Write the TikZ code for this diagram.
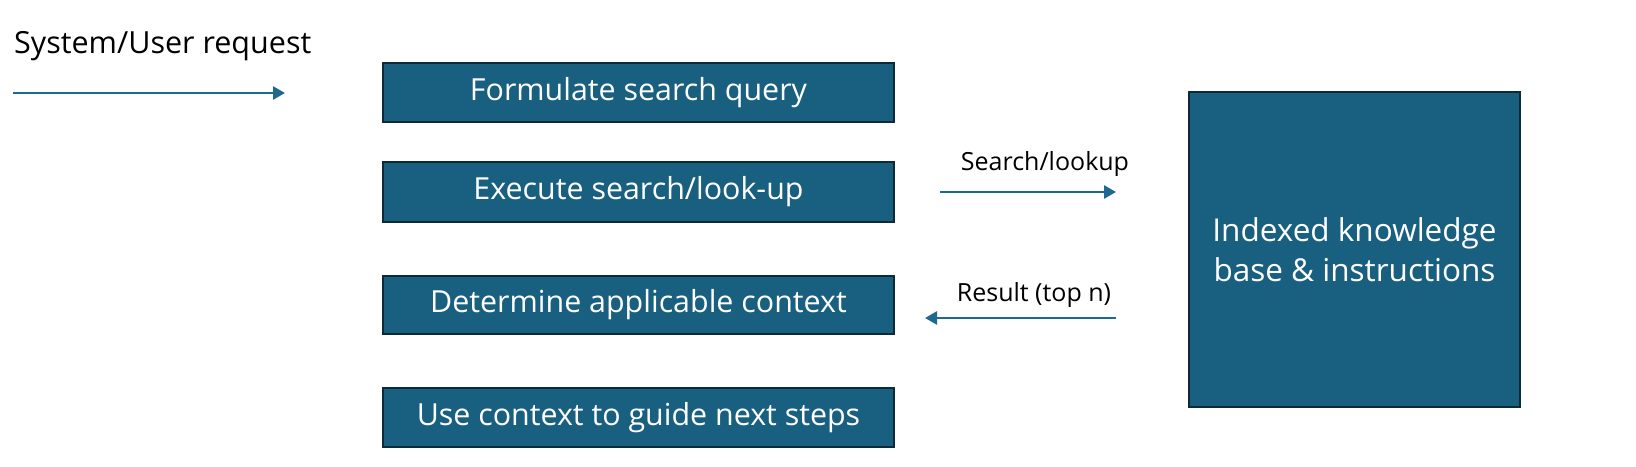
\documentclass[tikz,border=0pt]{standalone}
\usepackage{fontspec}
\setmainfont{Open Sans}
\usetikzlibrary{arrows.meta}
\definecolor{boxfill}{HTML}{185F80}
\definecolor{boxline}{HTML}{0D2A3B}
\definecolor{arrowc}{HTML}{1E6A8E}
\tikzset{
  stepbox/.style={draw=boxline, line width=2.6pt, fill=boxfill, text=white, inner sep=0pt},
  boxtext/.style={inner sep=0pt, text=white, font=\fontsize{30.4}{36}\selectfont},
  flow/.style={draw=arrowc, line width=2.6pt, -{Triangle[length=12pt,width=13pt]}},
  lbl/.style={inner sep=0pt, text=black}
}
\begin{document}
\begin{tikzpicture}[x=1pt,y=-1pt]
\useasboundingbox[fill=white] (0,0) rectangle (1636,466);
\path[stepbox] (383,63) rectangle (894,122) node[midway, boxtext] (f) {Formulate search query};
\path[stepbox] (383,162) rectangle (894,222) node[midway, boxtext] (e) {Execute search/look-up};
\path[stepbox] (383,276) rectangle (894,334) node[midway, boxtext] (d) {Determine applicable context};
\path[stepbox] (383,388) rectangle (894,447) node[midway, boxtext] (u) {Use context to guide next steps};
\path[stepbox] (1189,92) rectangle (1520,407) node[midway, boxtext, align=center, font=\fontsize{31.5}{40}\selectfont] (kb) {Indexed knowledge\\base \& instructions};
\node[lbl, font=\fontsize{30.5}{34}\selectfont, anchor=base west] (req) at (14,53) {System/User request};
\coordinate (a1s) at (13,93);
\coordinate (a1e) at (285,93);
\draw[flow] (a1s) -- (a1e);
\coordinate (s1) at (940,192);
\coordinate (s2) at (1116,192);
\draw[flow] (s1) -- (s2);
\node[lbl, font=\fontsize{25}{28}\selectfont, anchor=base] (sl) at (1045,170) {Search/lookup};
\coordinate (r1) at (1116,318);
\coordinate (r2) at (925,318);
\draw[flow] (r1) -- (r2);
\node[lbl, font=\fontsize{25}{28}\selectfont, anchor=base] (rl) at (1034,301) {Result (top n)};
\end{tikzpicture}
\end{document}
